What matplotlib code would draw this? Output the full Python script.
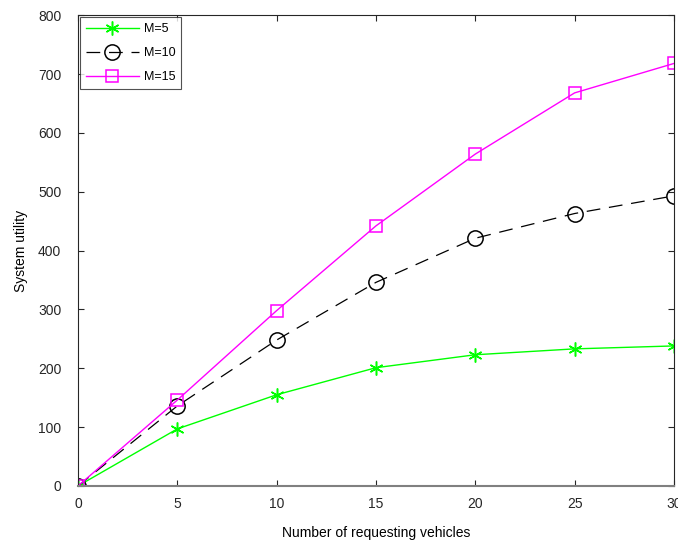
import numpy as np
import matplotlib.pyplot as plt

plt.rcParams['font.family'] = ['Liberation Sans', 'DejaVu Sans']

vehicles = [0, 5, 10, 15, 20, 25, 30]
util_m5 = [0, 97, 155, 201, 223, 233, 238]
util_m10 = [0, 136, 248, 346, 421, 463, 493]
util_m15 = [0, 146, 298, 442, 564, 668, 718]

fig = plt.figure(figsize=(6.78, 5.43), dpi=100)
ax = fig.add_axes([0.115, 0.105, 0.879, 0.867])

# matlab style asterisk
ax.plot(vehicles, util_m5, '-', color='#00ff00', lw=1, marker=(6, 2, 0),
        markersize=10, markeredgewidth=1.1, label='M=5')
ax.plot(vehicles, util_m10, color='black', lw=0.9, dashes=(11, 7), marker='o',
        markersize=11, markerfacecolor='none', markeredgewidth=1.1, label='M=10')
ax.plot(vehicles, util_m15, '-', color='#ff00ff', lw=1, marker='s',
        markersize=8, markerfacecolor='none', markeredgewidth=1.1, label='M=15')

ax.set_xlim(0, 30)
ax.set_ylim(0, 800)
ax.set_xticks(np.arange(0, 31, 5))
ax.set_yticks(np.arange(0, 801, 100))
ax.tick_params(direction='in', top=True, right=True, labelsize=10,
               colors='#262626', length=4)
ax.tick_params(axis='y', pad=12)
ax.tick_params(axis='x', pad=8)
for s in ax.spines.values():
    s.set_color('#262626')
    s.set_linewidth(0.8)
ax.spines['bottom'].set_color('#808080')
ax.spines['bottom'].set_linewidth(1.5)

ax.set_xlabel('Number of requesting vehicles', fontsize=10, labelpad=11)
ax.set_ylabel('System utility', fontsize=10, labelpad=7)

leg = ax.legend(loc='upper left', fontsize=9, frameon=True, fancybox=False,
                edgecolor='#262626', borderaxespad=0.15, handlelength=4.2,
                labelspacing=0.95, borderpad=0.5, handletextpad=0.4)
leg.get_frame().set_linewidth(0.8)

fig.savefig('out.png', dpi=100)
